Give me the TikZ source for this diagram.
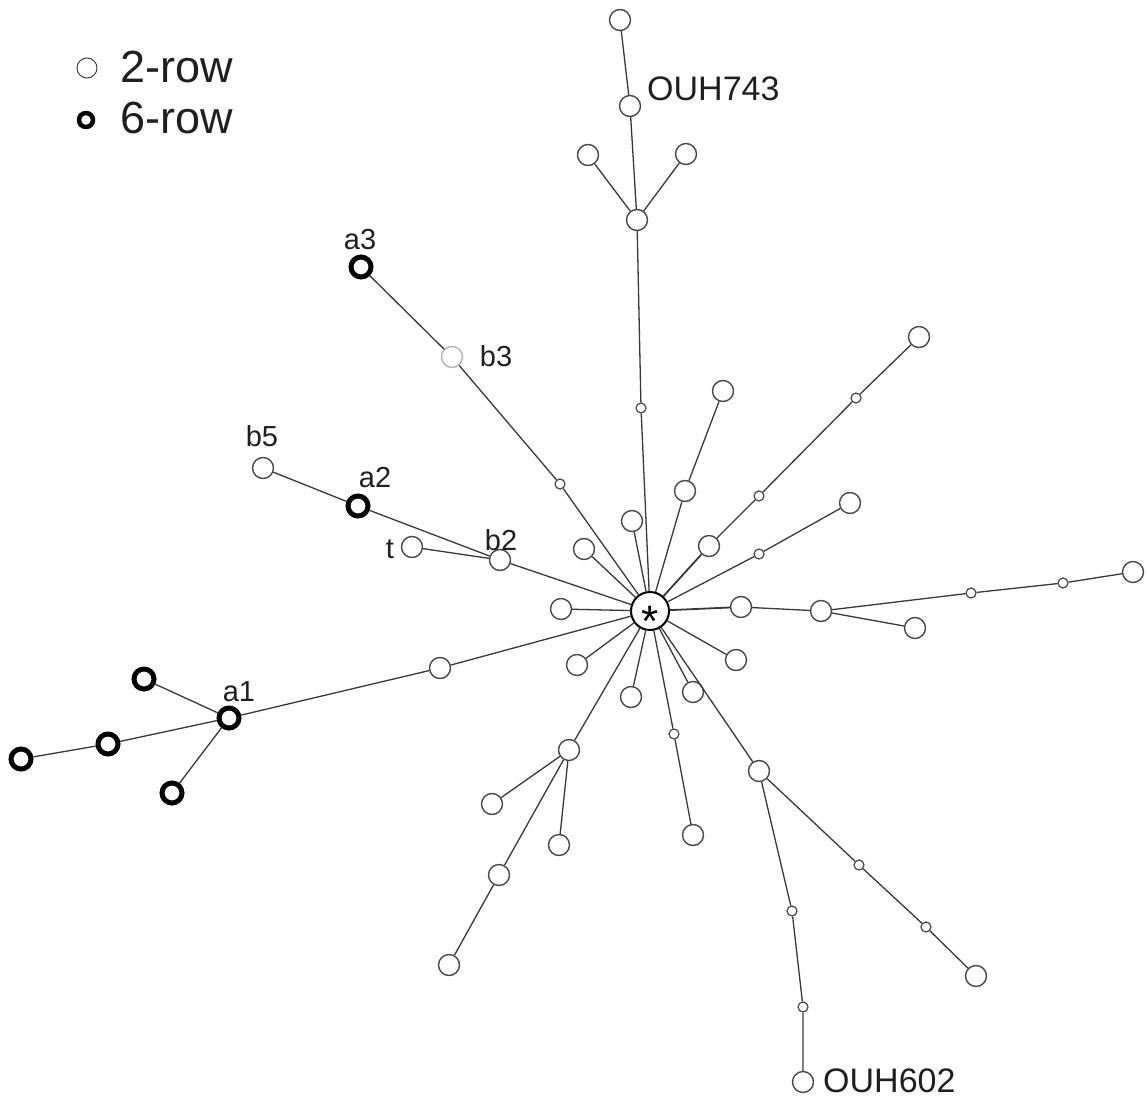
\documentclass[tikz,border=0pt]{standalone}
\usepackage{fontspec}
\setmainfont{Liberation Sans}
\begin{document}
\begin{tikzpicture}[x=1pt,y=-1pt,
  nd/.style={circle,draw=black!72,line width=1.4pt,fill=white,minimum size=21pt,inner sep=0pt},
  sm/.style={circle,draw=black!72,line width=1.2pt,fill=white,minimum size=10pt,inner sep=0pt},
  six/.style={circle,draw=black,line width=5pt,fill=white,minimum size=20pt,inner sep=0pt},
  lite/.style={circle,draw=black!30,line width=1.4pt,fill=white,minimum size=21pt,inner sep=0pt},
  hub/.style={circle,draw=black,line width=2pt,fill=white,minimum size=38pt,inner sep=0pt},
  lbl/.style={font=\fontsize{29}{29}\selectfont,text=black!88,inner sep=0pt},
  big/.style={font=\fontsize{34}{34}\selectfont,text=black!88,inner sep=0pt},
  leg/.style={font=\fontsize{45}{45}\selectfont,text=black!88,inner sep=0pt,anchor=west},
  ln/.style={draw=black!78,line width=1.3pt}]
\useasboundingbox (0,0) rectangle (1148,1102);

% hub
\node[hub] (c) at (650,611) {};
\node[font=\fontsize{44}{44}\selectfont,inner sep=0pt,anchor=base] (cstar) at (650,636) {*};

% top branch
\node[sm] (s1) at (641,408) {};
\node[nd] (n1) at (637,220) {};
\node[nd] (n2) at (588,155) {};
\node[nd] (n3) at (686,154) {};
\node[nd] (n4) at (630,106) {};
\node[nd] (n5) at (620,20) {};

% upper left
\node[sm] (s2) at (560,484) {};
\node[lite] (b3) at (452,357) {};
\node[six] (a3) at (361,267) {};
\node[nd] (b2) at (500,560) {};
\node[nd] (t) at (412,547) {};
\node[six] (a2) at (358,506) {};
\node[nd] (b5) at (263,468) {};

% left
\node[nd] (p1) at (440,668) {};
\node[six] (a1) at (229,718) {};
\node[six] (q1) at (144,679) {};
\node[six] (q2) at (108,744) {};
\node[six] (q3) at (21,759) {};
\node[six] (q4) at (172,793) {};
\node[nd] (p2) at (561,609) {};

% upper centre / right
\node[nd] (u1) at (632,521) {};
\node[nd] (u2) at (584,549) {};
\node[nd] (u3) at (685,491) {};
\node[nd] (u4) at (723,391) {};
\node[nd] (u5) at (709,546) {};
\node[sm] (s3) at (759,496) {};
\node[sm] (s4) at (856,398) {};
\node[nd] (u6) at (919,337) {};
\node[sm] (s5) at (759,554) {};
\node[nd] (u7) at (850,503) {};

% right
\node[nd] (r1) at (741,607) {};
\node[nd] (r2) at (821,611) {};
\node[sm] (s6) at (971,593) {};
\node[sm] (s7) at (1063,583) {};
\node[nd] (r3) at (1133,572) {};
\node[nd] (r4) at (915,628) {};

% lower right
\node[nd] (d1) at (736,660) {};
\node[nd] (d2) at (693,692) {};
\node[nd] (d3) at (759,771) {};
\node[sm] (s8) at (792,911) {};
\node[sm] (s9) at (803,1007) {};
\node[nd] (d4) at (803,1082) {};
\node[sm] (s10) at (859,865) {};
\node[sm] (s11) at (926,927) {};
\node[nd] (d5) at (976,976) {};

% lower
\node[nd] (e1) at (631,697) {};
\node[sm] (s12) at (674,734) {};
\node[nd] (e2) at (693,835) {};
\node[nd] (e3) at (577,665) {};
\node[nd] (e4) at (569,750) {};
\node[nd] (e5) at (492,804) {};
\node[nd] (e6) at (559,845) {};
\node[nd] (e7) at (499,875) {};
\node[nd] (e8) at (449,965) {};

% connectors
\begin{scope}[on background layer/.style={}]
\draw[ln] (c)--(s1) (s1)--(n1) (n1)--(n4) (n4)--(n5) (n1)--(n2) (n1)--(n3);
\draw[ln] (c)--(s2) (s2)--(b3) (b3)--(a3);
\draw[ln] (c)--(b2) (b2)--(a2) (a2)--(b5) (b2)--(t);
\draw[ln] (c)--(p1) (p1)--(a1) (a1)--(q1) (a1)--(q2) (q2)--(q3) (a1)--(q4);
\draw[ln] (c)--(p2);
\draw[ln] (c)--(u1) (c)--(u2) (c)--(u3) (u3)--(u4);
\draw[ln,line width=1.8pt] (c)--(u5);
\draw[ln] (u5)--(s3) (s3)--(s4) (s4)--(u6) (c)--(s5) (s5)--(u7);
\draw[ln,line width=1.8pt] (c)--(r1);
\draw[ln] (r1)--(r2) (r2)--(s6) (s6)--(s7) (s7)--(r3) (r2)--(r4);
\draw[ln] (c)--(d1) (c)--(d2) (c)--(d3) (d3)--(s8) (s8)--(s9) (s9)--(d4) (d3)--(s10) (s10)--(s11) (s11)--(d5);
\draw[ln] (c)--(e1) (c)--(s12) (s12)--(e2) (c)--(e3) (c)--(e4) (e4)--(e5) (e4)--(e6) (e4)--(e7) (e7)--(e8);
\end{scope}

% labels
\node[big,anchor=west] (lOUH743) at (647,89) {OUH743};
\node[big,anchor=west] (lOUH602) at (823,1081) {OUH602};
\node[lbl] (la3) at (360,240) {a3};
\node[lbl] (lb3) at (496,356) {b3};
\node[lbl] (lb5) at (262,436) {b5};
\node[lbl] (la2) at (375,478) {a2};
\node[lbl] (lb2) at (501,540) {b2};
\node[lbl] (lt) at (390,549) {t};
\node[lbl] (la1) at (239,692) {a1};

% legend
\node[circle,draw=black!75,line width=1pt,minimum size=20pt,inner sep=0pt] (k1) at (87,68) {};
\node[circle,draw=black,line width=4.5pt,minimum size=14pt,inner sep=0pt] (k2) at (86,120) {};
\node[leg] (lk1) at (120,67) {2-row};
\node[leg] (lk2) at (120,118) {6-row};
\end{tikzpicture}
\end{document}
